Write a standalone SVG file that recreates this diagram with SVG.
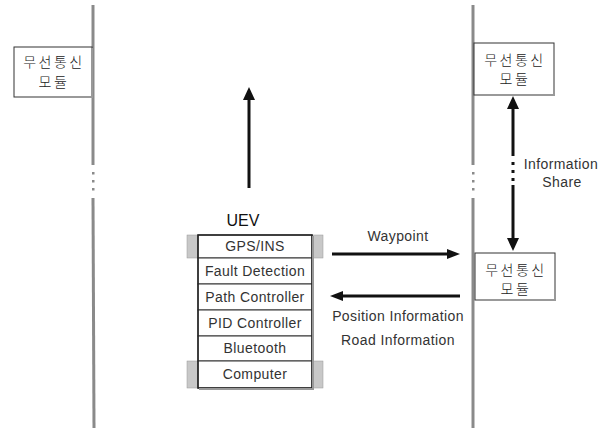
<svg xmlns="http://www.w3.org/2000/svg" width="611" height="432" viewBox="0 0 611 432">
<style>
.life{stroke:#8a8a8a;stroke-width:3;fill:none}
.dot{fill:#8a8a8a}
.box{fill:#fff;stroke:#333;stroke-width:1}
.shadow{stroke:#999;stroke-width:2;fill:none}
.kr{font-family:"Noto Sans CJK KR","Liberation Sans",sans-serif;font-size:14px;font-weight:300;letter-spacing:2.5px;fill:#222;text-anchor:middle}
.lbl{font-family:"Liberation Sans",Arial,sans-serif;font-size:14px;letter-spacing:0.4px;fill:#333;text-anchor:middle}
.cell{fill:#fff;stroke:#333;stroke-width:1}
.gray{fill:#c8c8c8;stroke:#999;stroke-width:0.5}
.arr{stroke:#111;stroke-width:3;fill:none}
.head{fill:#111}
</style>
<g id="lifelines">
<line class="life" x1="93" y1="5" x2="93" y2="165"/>
<rect class="dot" x="92" y="172" width="2.5" height="2.5"/>
<rect class="dot" x="92" y="180" width="2.5" height="2.5"/>
<rect class="dot" x="92" y="188" width="2.5" height="2.5"/>
<line class="life" x1="93" y1="198" x2="94" y2="428"/>
<line class="life" x1="473" y1="5" x2="473" y2="165"/>
<rect class="dot" x="472" y="172" width="2.5" height="2.5"/>
<rect class="dot" x="472" y="180" width="2.5" height="2.5"/>
<rect class="dot" x="472" y="188" width="2.5" height="2.5"/>
<line class="life" x1="473" y1="198" x2="473" y2="428"/>
</g>
<g id="node-left-module">
<rect class="box" x="14" y="47" width="78" height="50"/>
<polyline class="shadow" points="15,97 92,97 92,48"/>
<text class="kr" x="54" y="67">무선통신</text>
<text class="kr" x="54" y="87">모듈</text>
</g>
<g id="node-right-top-module">
<rect class="box" x="474" y="43" width="80" height="52"/>
<polyline class="shadow" points="475,95 554,95 554,44"/>
<text class="kr" x="515" y="65">무선통신</text>
<text class="kr" x="515" y="84">모듈</text>
</g>
<g id="node-right-bottom-module">
<rect class="box" x="475" y="253" width="80" height="47"/>
<polyline class="shadow" points="476,300 555,300 555,254"/>
<text class="kr" x="516" y="275">무선통신</text>
<text class="kr" x="516" y="294">모듈</text>
</g>
<g id="node-uev">
<text x="243" y="226" font-family="Liberation Sans, Arial, sans-serif" font-size="16" fill="#111" text-anchor="middle">UEV</text>
<rect class="gray" x="187" y="235" width="11" height="23"/>
<rect class="gray" x="312" y="235" width="11" height="23"/>
<rect class="gray" x="187" y="361" width="11" height="27"/>
<rect class="gray" x="312" y="361" width="11" height="27"/>
<rect class="cell" x="198" y="235" width="114" height="23"/>
<rect class="cell" x="198" y="258" width="114" height="26"/>
<rect class="cell" x="198" y="284" width="114" height="26"/>
<rect class="cell" x="198" y="310" width="114" height="26"/>
<rect class="cell" x="198" y="336" width="114" height="25"/>
<rect class="cell" x="198" y="361" width="114" height="27"/>
<rect x="198" y="235" width="114" height="153" fill="none" stroke="#222" stroke-width="1.5"/>
<polyline class="shadow" points="199,389 313,389 313,236"/>
<text class="lbl" x="255" y="251" font-size="13">GPS/INS</text>
<text class="lbl" x="255" y="276">Fault Detection</text>
<text class="lbl" x="255" y="302">Path Controller</text>
<text class="lbl" x="255" y="328">PID Controller</text>
<text class="lbl" x="255" y="353">Bluetooth</text>
<text class="lbl" x="255" y="379">Computer</text>
</g>
<g id="connectors">
<line class="arr" x1="249" y1="188" x2="249" y2="98"/>
<polygon class="head" points="249,87 243,100 255,100"/>
<line class="arr" x1="332" y1="254" x2="450" y2="254"/>
<polygon class="head" points="460,254 447,249 447,259"/>
<line class="arr" x1="460" y1="296" x2="340" y2="296"/>
<polygon class="head" points="330,296 343,291 343,301"/>
<line class="arr" x1="513" y1="106" x2="513" y2="156"/>
<polygon class="head" points="513,96 507,109 519,109"/>
<rect class="head" x="511.5" y="162" width="3" height="3"/>
<rect class="head" x="511.5" y="170" width="3" height="3"/>
<rect class="head" x="511.5" y="178" width="3" height="3"/>
<line class="arr" x1="513" y1="185" x2="513" y2="240"/>
<polygon class="head" points="513,251 507,238 519,238"/>
</g>
<g id="labels">
<text class="lbl" x="398" y="241">Waypoint</text>
<text class="lbl" x="398" y="321" letter-spacing="0.6">Position Information</text>
<text class="lbl" x="398" y="345" letter-spacing="0.6">Road Information</text>
<text class="lbl" x="561" y="169" letter-spacing="0.8">Information</text>
<text class="lbl" x="562" y="187" letter-spacing="0.8">Share</text>
</g>
</svg>
